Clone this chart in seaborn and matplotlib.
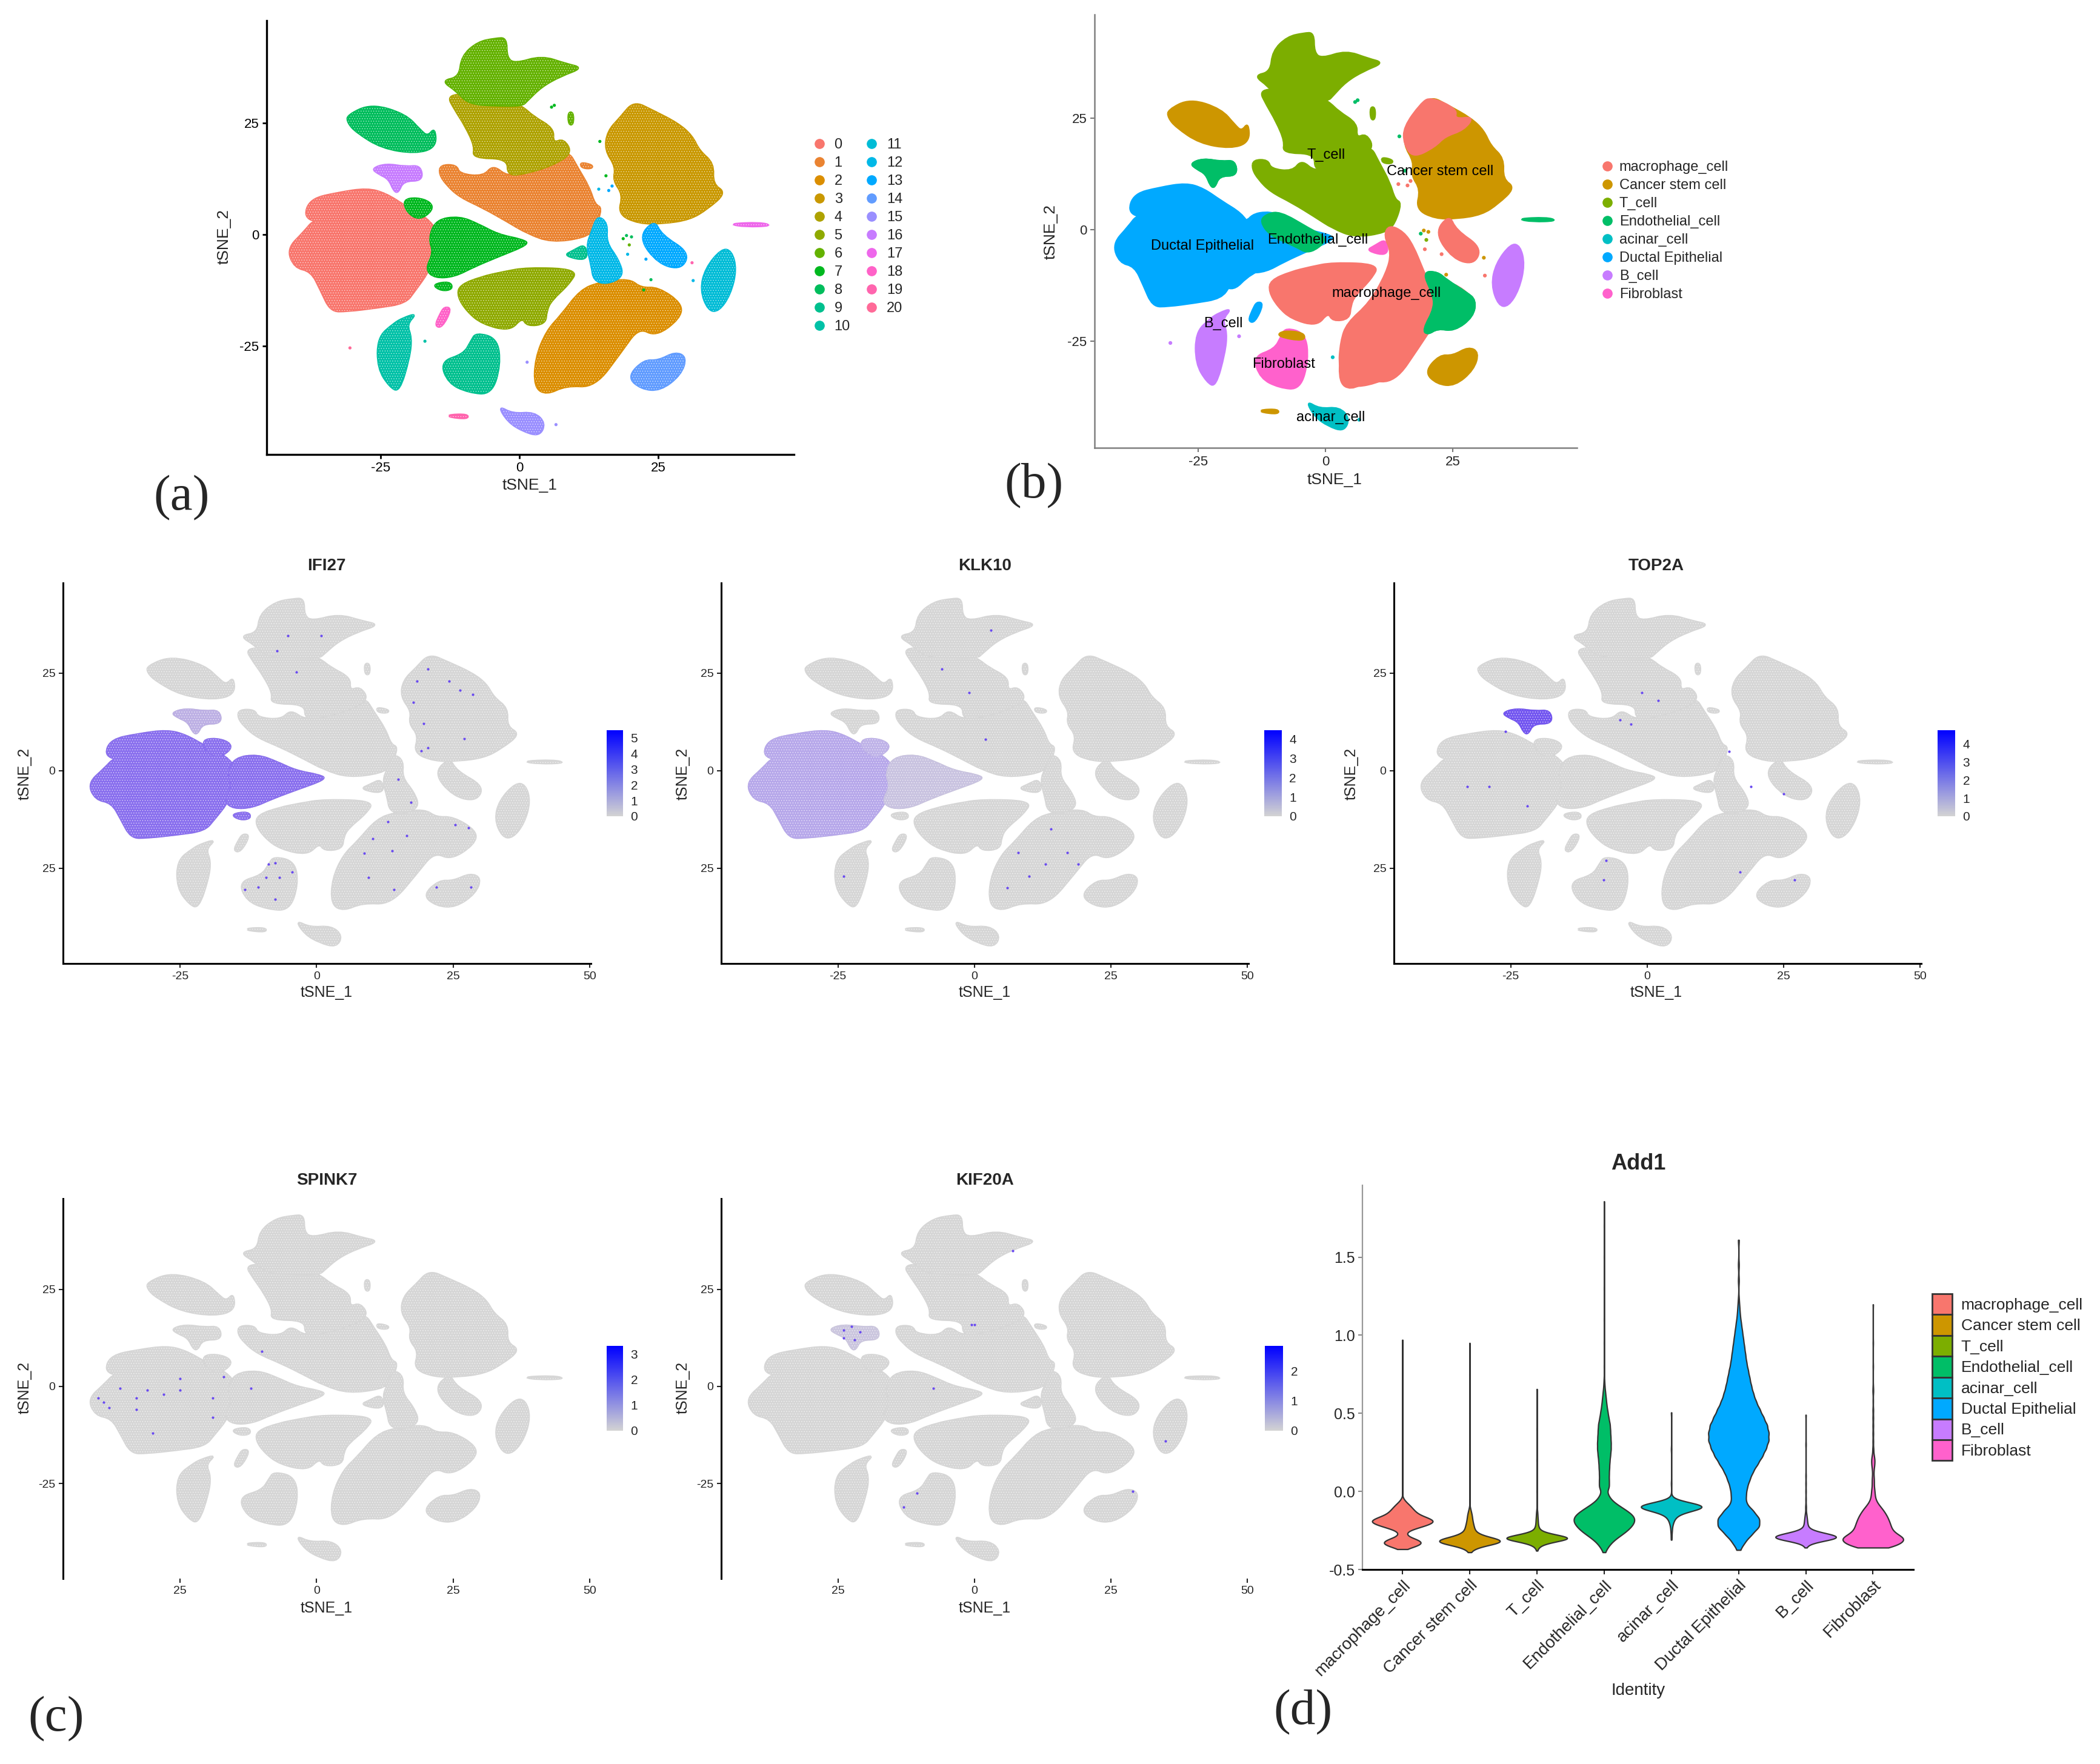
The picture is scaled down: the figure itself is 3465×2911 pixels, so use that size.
import numpy as np
import pandas as pd
import matplotlib
matplotlib.use("Agg")
import matplotlib.pyplot as plt
import seaborn as sns
from matplotlib.colors import LinearSegmentedColormap, Normalize
from matplotlib.cm import ScalarMappable
from matplotlib.lines import Line2D
from matplotlib.patches import Patch, PathPatch
from matplotlib.path import Path

sns.set_theme(style="ticks")
plt.rcParams["font.family"] = ["Liberation Sans", "DejaVu Sans"]
plt.rcParams["hatch.linewidth"] = 0.3
plt.rcParams["axes.unicode_minus"] = False

# ---------- cluster outlines (tSNE_1, tSNE_2) ----------
c0_x = [-41.8,-38.8,-36.8,-30,-30,-36,-38.8,-37.6,-32.7,-27.4,-24,-20.5,-16.5,-14.8,-14.8,-16.5,-18.7,-20.5,-25.7,-31,-34,-35.8,-37.5,-40.5]
c0_y = [-3.2,0.6,3.6,3.4,2.4,2.6,4,8,9.4,10.4,9.2,6.4,3.6,0.6,-4,-8.6,-12.4,-15.4,-16.4,-17.2,-17.2,-12.4,-8.2,-7.4]
c1_x = [-14.2,-11.3,-10.8,-6.5,-4.7,-2.1,1.4,5.8,8.8,10.4,12.6,13.6,14.9,13.6,11.9,5.8,1.4,-2.1,-6.5,-10.8,-13.2,-14.4]
c1_y = [15.6,15.6,13.6,13,15.6,12.9,14.4,15.9,18.8,15.2,10.6,6.7,6,1.4,-0.6,-1.7,0.3,2.9,6,8.5,11.3,13.6]
c1b_x = [11,13.2,13,11.2]
c1b_y = [16.2,15.6,14.8,15]
c2_x = [14.5,19.8,21.9,25,29.3,28.9,24.6,21.5,18.4,13.6,8.4,4.9,2.7,2.9,4.9,7.5,11]
c2_y = [-10.7,-9.9,-12,-11.8,-15.5,-18.8,-22.8,-20.8,-26.2,-34.2,-33.8,-35.9,-34.2,-27.7,-21.6,-18.1,-12.4]
c3_x = [20.6,24.1,28.5,31.1,32.4,35,34.8,37.2,33.9,30.7,25.9,21.5,17.8,18.7,16.9,17.4,15.4,15.9,18.2]
c3_y = [29.9,27.8,25,22.2,18.8,16,11.3,9.4,5.8,3.4,2.5,2.5,4.6,9,12.1,15.2,19,23.2,26.3]
c4_x = [-13,-9.1,-3.8,0.7,2.5,6.2,6,8,9.5,5.8,1.4,-2.1,-2.1,-8.4,-8,-9.7,-11.6]
c4_y = [31.2,31.5,31.5,28.6,26.5,23.8,20.5,21.5,18.2,15.5,13.8,13.2,17.1,17.2,19.8,24.3,28]
c5_x = [-10.8,-6.9,-3,1.4,10.5,9,5.8,4.9,4.7,1.4,0.5,-1.7,-6.7,-9.4,-11.1]
c5_y = [-11.4,-9.5,-8.4,-7.4,-7.8,-11,-14.7,-17,-20,-20.5,-18.5,-21.6,-20,-17.2,-13.9]
c6_x = [-4.3,-2.3,-2.3,-0.8,4,8.4,11.4,7.5,4,1.4,0.5,-3.8,-9.1,-11.3,-14,-10.8,-10.4,-7.5]
c6_y = [44,44.1,39.7,38.3,40.1,38.3,37.4,35.6,33.2,30,28.9,28.9,29.3,32.2,34.5,35.3,40,43.2]
c6b_x = [8.8,9.7,9.7,8.9]
c6b_y = [27.4,27.4,24.7,24.7]
c7_x = [-15,-10.8,-7.3,-3.8,0.5,1.8,-3.8,-8.2,-11.7,-15.2,-16.9,-15.4,-16.3]
c7_y = [3.3,4.1,2.3,0,-1.1,-2.1,-4.9,-7.2,-9.4,-9.7,-7.8,-4,-0.9]
c7b_x = [-20.9,-18.5,-16,-15.6,-18,-20.2]
c7b_y = [7.8,8.3,7.3,5.5,3.3,5]
c7c_x = [-15.7,-12.5,-12,-14]
c7c_y = [-11.2,-10.5,-12.2,-12.6]
c8_x = [-31,-26.6,-20.5,-17.8,-16.5,-15.2,-15,-18.7,-24.8,-29.4,-30.9]
c8_y = [26.8,29.3,27,23.4,22,24,19.6,18.2,19.4,23,25.1]
c8b_x = [11.9,12.3,8,9.7]
c8b_y = [-2.1,-5.9,-4.7,-3.6]
c9_x = [-7.8,-4,-3.4,-5,-9.1,-12.8,-14.2,-10,-8.7]
c9_y = [-22,-23.3,-29.2,-35.8,-35.4,-33.3,-28.5,-26.8,-23.9]
c10_x = [-18.5,-20.3,-19.4,-19.8,-21.6,-23.3,-25.5,-25.5,-22.6,-20.9]
c10_y = [-17.7,-20.1,-23.1,-27.7,-35.2,-34.2,-30,-23.1,-19.9,-18.7]
c11_x = [36.4,38.2,39.1,38,35.9,34,32.6,33.5]
c11_y = [-3.2,-3.6,-7.8,-13.4,-17.2,-17,-12.4,-7.6]
c12_x = [14.1,15.9,15.6,17.8,18.8,15.8,13.4,13,12.1,13]
c12_y = [4.3,2.5,-1.7,-5.5,-9.3,-11.1,-10.3,-7,-2.5,0.6]
c13_x = [24.3,25.6,30.6,29.2,25,21.5]
c13_y = [3.3,-0.1,-4,-7.8,-6.5,-0.7]
c14_x = [28.1,30.1,29.1,25.4,21.9,19.5,22.4,25]
c14_y = [-26.3,-27.5,-31.4,-35,-34.6,-31.9,-28.1,-28.3]
c15_x = [-3.8,-1.2,2.7,4.7,3.6,0.5,-2.1]
c15_y = [-38.4,-40.2,-39.8,-42.3,-45.2,-44,-41.9]
c16_x = [-26.6,-24,-20.5,-17.8,-17.4,-20.9,-21.8,-22.6,-23.5,-25.3]
c16_y = [14.8,15.9,15.2,15.5,12.1,12.1,9.4,9.8,12.5,13.6]
c17_x = [37.7,43.4,45.5,40.7]
c17_y = [2.4,2.7,2,1.8]
c18_x = [-13.5,-12.2,-13.9,-15.2,-14.3]
c18_y = [-16.2,-16.6,-20.8,-20.5,-17.9]
c19_x = [-12.6,-9.3,-9.3,-12.6]
c19_y = [-40.4,-40.3,-41.3,-40.9]

# cell-type regions that differ from the cluster outlines (panel b)
mac_up_x = [20.6,25.8,25.3,29.1,27.2,23.4,21.5,17.2,15.4,15.4,18.7]
mac_up_y = [29.7,27,24.7,25.3,22.4,20.9,18.6,16.1,19.3,23,28.2]
mac_low_x = [12.5,15.3,17.2,19.1,21.4,19.3,15.8,12,4.4,2.6,3,4.2,8.7,12,13,11.5]
mac_low_y = [1,-0.5,-3.6,-8.9,-15.1,-23,-29.8,-33.8,-35.7,-31,-25,-21,-16.4,-9.7,-5.1,-1.3]
endo_r_x = [19.1,22,23.9,27.7,29.5,29,25.3,22,20.1,19.1,21.5,21]
endo_r_y = [-9.5,-9.5,-11.4,-14.1,-15.8,-19.5,-22.7,-22.1,-23.5,-22.5,-17.4,-14.3]
duct_ext_x = [-15.6,-11.8,-10.9,-4.7,-9,-14.7,-18.6,-22.3,-20.4]
duct_ext_y = [2.5,3.3,-1.3,-4.7,-7.4,-9.7,-14.3,-9.7,-2.1]
endo_m_x = [-11.8,-9,-3.2,0.6,-3.2,-6.1,-10.9,-12.8]
endo_m_y = [3.3,4.1,0.2,-2.1,-5.5,-3.6,-1.3,1.8]
crown_x = [-8.5,-4.2,-4.2,-9.5]
crown_y = [-22.7,-23.1,-25,-23.9]

# scattered single cells (tSNE_1, tSNE_2, cluster)
stray_x = [5.8,15.6,14.3,16.7,19.3,18.7,19.8,19.5,23.7,22.4,22.8,31.1,1.4,6.6,-30.5,-17,14.5,31.3,6.3,20.2,16.1]
stray_y = [28.6,13.2,10.2,10.9,-0.2,-0.9,-2.3,-4.4,-10.1,-12.4,-5.5,-6.3,-28.6,-42.6,-25.4,-23.9,20.9,-10.3,29,-0.5,9.9]
stray_cluster = [7,7,12,13,8,7,6,12,8,7,13,19,15,15,20,10,7,12,7,8,13]

# positive cells drawn over the grey map
ifi_x = [18.4,20.4,24.3,26.2,17.7,28.6,19.6,27,20.4,19.2,-5.3,-7.2,-3.7,0.9,13,10.3,8.7,13.8,9.5,14.2,16.5,25.4,27.8,21.9,28.2,14.9,17.3,-7.6,-9.2,-10.7,-4.5,-7.6,-13.1,-8.8,-6.8]
ifi_y = [22.9,26,22.9,20.6,17.5,19.5,12.1,8.2,5.9,5.1,34.6,30.7,25.3,34.6,-13.1,-17.4,-21.2,-20.5,-27.4,-30.5,-16.6,-13.9,-14.7,-29.8,-29.8,-2.2,-8.1,-23.6,-27.4,-29.8,-25.9,-32.9,-30.5,-24,-27.4]
klk_pos_x = [-6,-1,3,14,8,10,17,19,13,6,-24,2]
klk_pos_y = [26,20,36,-15,-21,-27,-21,-24,-24,-30,-27,8]
spink_pos_x = [-39,-36,-33,-31,-28,-25,-40,-38,-33,-25,-17,-19,-12,-10,-19,-30]
spink_pos_y = [-4,-0.5,-3,-1,-2,-1,-3,-5.5,-6,2,2.5,-8,-0.5,9,-3,-12]
kif_pos_x = [-24,-22.5,-21,-24,-22,-7.5,0,7,29,-0.5,-13,-10.5,35]
kif_pos_y = [14.5,15.5,14,12.5,12,-0.4,16,35,-27,16,-31,-27.5,-14]
top_pos_x = [-1,2,-5,-26,-33,-29,-22,19,25,-3,17,-7.5,-8,27,15]
top_pos_y = [20,18,13,10,-4,-4,-9,-4,-6,12,-26,-23,-28,-28,5]

cluster_labels = [str(i) for i in range(21)]
cluster_colors = ["#F8766D","#EA8331","#DB8E00","#C99800","#AEA200","#8FAA00","#64B200","#00B81F",
                  "#00BD5C","#00C08E","#00C1A7","#00BCD6","#00B8E7","#00A9FF","#619CFF","#9A8FFF",
                  "#C77CFF","#EE67EB","#FF62C8","#FF65AE","#FF6A98"]
cell_types = ["macrophage_cell","Cancer stem cell","T_cell","Endothelial_cell","acinar_cell",
              "Ductal Epithelial","B_cell","Fibroblast"]
cell_colors = ["#F8766D","#CD9600","#7CAE00","#00BE67","#00BFC4","#00A9FF","#C77CFF","#FF61CC"]
cell_label_x = [12,22.5,0.1,-1.5,1,-24.2,-20.1,-8.2]
cell_label_y = [-14.3,13,16.7,-2.3,-42.1,-3.7,-21,-30.1]
cell_label_text = ["macrophage_cell","Cancer stem cell","T_cell","Endothelial_cell","acinar_cell",
                   "Ductal Epithelial","B_cell","Fibroblast"]

feature_names = ["IFI27","KLK10","TOP2A","SPINK7","KIF20A"]
feature_max = [5.47,4.44,4.74,3.33,2.83]
feature_ticks = [[0,1,2,3,4,5],[0,1,2,3,4],[0,1,2,3,4],[0,1,2,3],[0,1,2]]

# violin densities: value levels and how many cells sit at each level
mac_v = [-0.37,-0.35,-0.33,-0.31,-0.29,-0.27,-0.25,-0.23,-0.21,-0.19,-0.17,-0.15,-0.13,-0.11,-0.09,-0.07,-0.05,0.02,0.15,0.35,0.6,0.97]
mac_n = [10,42,60,46,18,10,20,50,80,95,75,50,38,30,22,12,4,1,1,1,1,1]
can_v = [-0.39,-0.37,-0.35,-0.33,-0.31,-0.29,-0.27,-0.25,-0.23,-0.21,-0.19,-0.17,-0.15,-0.13,-0.11,-0.05,0.1,0.3,0.5,0.75,0.95]
can_n = [3,10,35,85,90,45,22,14,12,10,8,7,6,4,2,1,1,1,1,1,1]
tce_v = [-0.38,-0.36,-0.34,-0.32,-0.30,-0.28,-0.26,-0.24,-0.22,-0.20,-0.18,-0.16,-0.14,-0.12,0.0,0.2,0.4,0.655]
tce_n = [1,4,14,50,110,55,14,6,4,3,3,2,2,1,1,1,1,1]
end_v = [-0.39,-0.37,-0.35,-0.33,-0.31,-0.29,-0.27,-0.25,-0.23,-0.21,-0.19,-0.17,-0.15,-0.13,-0.11,-0.09,-0.07,-0.05,-0.03,-0.01,0.03,0.07,0.11,0.15,0.19,0.23,0.27,0.31,0.35,0.39,0.43,0.47,0.51,0.55,0.59,0.63,0.67,0.71,0.8,0.95,1.1,1.3,1.5,1.7,1.857]
end_n = [3,8,14,22,32,45,60,72,82,90,95,95,88,75,60,45,30,20,14,12,32,30,30,32,34,38,42,42,40,38,36,28,22,16,12,8,4,2,1,1,1,1,1,1,1]
aci_v = [-0.31,-0.29,-0.27,-0.25,-0.23,-0.21,-0.19,-0.17,-0.15,-0.13,-0.11,-0.09,-0.07,-0.05,-0.03,0.05,0.27,0.505]
aci_n = [1,1,1,2,2,4,6,10,18,40,75,80,40,8,1,1,1,1]
duc_v = [-0.375,-0.325,-0.275,-0.225,-0.175,-0.125,-0.075,-0.025,0.025,0.075,0.125,0.175,0.225,0.275,0.325,0.375,0.425,0.475,0.525,0.575,0.625,0.675,0.725,0.775,0.825,0.875,0.925,0.975,1.025,1.075,1.125,1.175,1.225,1.35,1.45,1.61]
duc_n = [3,12,25,40,40,28,14,14,16,21,27,36,45,52,57,57,54,47,40,33,28,24,21,18,15,13,11,9,7,5,3,2,1,1,1,1]
bce_v = [-0.36,-0.34,-0.32,-0.30,-0.28,-0.26,-0.24,-0.22,-0.20,-0.18,-0.16,-0.14,-0.10,-0.05,0.0,0.05,0.1,0.3,0.49]
bce_n = [2,6,40,105,90,35,10,6,5,4,3,2,2,1,1,1,1,1,1]
fib_v = [-0.36,-0.34,-0.32,-0.30,-0.28,-0.26,-0.24,-0.22,-0.20,-0.18,-0.16,-0.14,-0.12,-0.10,-0.08,-0.06,-0.04,-0.02,0.0,0.02,0.05,0.08,0.11,0.14,0.17,0.20,0.23,0.27,0.32,0.37,0.42,0.47,0.52,0.58,0.64,0.67,0.8,0.95,1.197]
fib_n = [55,80,95,100,80,65,58,55,52,48,44,38,32,24,16,10,7,6,5,5,5,5,3,4,7,8,5,3,2,2,2,2,2,1,2,1,1,1,1]
violin_levels = [mac_v,can_v,tce_v,end_v,aci_v,duc_v,bce_v,fib_v]
violin_counts = [mac_n,can_n,tce_n,end_n,aci_n,duc_n,bce_n,fib_n]
violin_bw = [0.014,0.016,0.016,0.022,0.016,0.027,0.016,0.018]

# ---------- figure ----------
W, H = 3465, 2911
fig = plt.figure(figsize=(W/100, H/100), dpi=100, facecolor="white")

def px_axes(l, t, r, b):
    return fig.add_axes([l/W, 1-b/H, (r-l)/W, (b-t)/H])

def ftext(x, y, s, **kw):
    kw.setdefault("ha", "center"); kw.setdefault("va", "center")
    fig.text(x/W, 1-y/H, s, **kw)

def rounded_outline(xs, ys):
    # closed path with the read vertices as curve control points
    P = np.column_stack([xs, ys])
    mid = (P + np.roll(P, -1, axis=0)) / 2
    verts, codes = [mid[-1]], [Path.MOVETO]
    for p, m in zip(P, mid):
        verts += [p, m]
        codes += [Path.CURVE3, Path.CURVE3]
    return Path(np.array(verts), codes)

def blob(ax, xs, ys, color, speck="white", hatch="...."):
    path = rounded_outline(xs, ys)
    ax.add_patch(PathPatch(path, facecolor=color, edgecolor=color, linewidth=2.5, zorder=2))
    if hatch:
        ax.add_patch(PathPatch(path, facecolor="none", edgecolor=speck, hatch=hatch, linewidth=0, zorder=2))

clusters = [(c0_x,c0_y,0),(c1_x,c1_y,1),(c1b_x,c1b_y,1),(c2_x,c2_y,2),(c3_x,c3_y,3),(c4_x,c4_y,4),
            (c5_x,c5_y,5),(c6_x,c6_y,6),(c6b_x,c6b_y,6),(c7_x,c7_y,7),(c7b_x,c7b_y,7),(c7c_x,c7c_y,7),
            (c8_x,c8_y,8),(c8b_x,c8b_y,9),(c9_x,c9_y,9),(c10_x,c10_y,10),(c11_x,c11_y,11),(c12_x,c12_y,12),
            (c13_x,c13_y,13),(c14_x,c14_y,14),(c15_x,c15_y,15),(c16_x,c16_y,16),(c17_x,c17_y,17),
            (c18_x,c18_y,18),(c19_x,c19_y,19)]

# ---------- panel a ----------
ax = px_axes(440, 34, 1310, 750)
for xs, ys, k in clusters:
    blob(ax, xs, ys, cluster_colors[k])
sns.scatterplot(x=stray_x, y=stray_y, hue=[cluster_labels[k] for k in stray_cluster],
                palette=dict(zip(cluster_labels, cluster_colors)), s=14, linewidth=0, legend=False, ax=ax, zorder=3)
ax.set(xlim=(-45.5,49.45), ylim=(-49.3,48.0), xticks=[-25,0,25], yticks=[-25,0,25])
ax.tick_params(labelsize=16, length=5, width=2, colors="black", pad=4)
sns.despine(ax=ax)
for s in ax.spines.values(): s.set_linewidth(2.4); s.set_color("black")
ftext(874, 801, "tSNE_1", fontsize=19)
ftext(370, 391, "tSNE_2", fontsize=19, rotation=90)
h = [Line2D([],[],ls="",marker="o",ms=12,mfc=c,mec="none") for c in cluster_colors]
ax.legend(h, cluster_labels, loc="upper left", bbox_to_anchor=(1340/W, 1-228/H), bbox_transform=fig.transFigure,
          ncol=2, frameon=False, fontsize=17, labelspacing=0.34, handletextpad=0.55, columnspacing=1.0,
          handlelength=1.0, borderpad=0, borderaxespad=0)
ftext(300, 822, "(a)", fontsize=60, family="Liberation Serif")

# ---------- panel b ----------
ax = px_axes(1806, 24, 2602, 739)
type_of = {0:5,1:2,2:0,3:1,4:2,5:0,6:2,7:3,8:1,9:7,10:6,11:6,12:0,13:0,14:1,15:4,16:3,17:3,18:5,19:1,20:6}
for xs, ys, k in clusters:
    if k in (2, 7, 12):
        continue
    blob(ax, xs, ys, cell_colors[type_of[k]], hatch="")
blob(ax, c2_x, c2_y, cell_colors[0], hatch="")
blob(ax, endo_r_x, endo_r_y, cell_colors[3], hatch="")
blob(ax, mac_low_x, mac_low_y, cell_colors[0], hatch="")
blob(ax, endo_r_x, endo_r_y, cell_colors[3], hatch="")
blob(ax, mac_up_x, mac_up_y, cell_colors[0], hatch="")
blob(ax, c7_x, c7_y, cell_colors[5], hatch="")
blob(ax, duct_ext_x, duct_ext_y, cell_colors[5], hatch="")
blob(ax, endo_m_x, endo_m_y, cell_colors[3], hatch="")
blob(ax, c16_x, c16_y, cell_colors[3], hatch="")
blob(ax, crown_x, crown_y, cell_colors[1], hatch="")
sns.scatterplot(x=stray_x, y=stray_y, hue=[cell_types[type_of[k]] for k in stray_cluster],
                palette=dict(zip(cell_types, cell_colors)), s=20, linewidth=0, legend=False, ax=ax, zorder=3)
for tx, ty, t in zip(cell_label_x, cell_label_y, cell_label_text):
    ax.text(tx, ty, t, ha="center", va="center", fontsize=17, color="black", zorder=5)
ax.set(xlim=(-45.4,49.4), ylim=(-48.9,48.2), xticks=[-25,0,25], yticks=[-25,0,25])
ax.tick_params(labelsize=16, length=5, width=1.5, color="#777777", pad=4)
sns.despine(ax=ax)
for s in ax.spines.values(): s.set_linewidth(1.8); s.set_color("#808080")
ftext(2202, 792, "tSNE_1", fontsize=19)
ftext(1734, 383, "tSNE_2", fontsize=19, rotation=90)
h = [Line2D([],[],ls="",marker="o",ms=12,mfc=c,mec="none") for c in cell_colors]
ax.legend(h, cell_types, loc="upper left", bbox_to_anchor=(2640/W, 1-265/H), bbox_transform=fig.transFigure,
          frameon=False, fontsize=17, labelspacing=0.34, handletextpad=0.35, handlelength=1.0,
          borderpad=0, borderaxespad=0)
ftext(1706, 802, "(b)", fontsize=60, family="Liberation Serif")

# ---------- feature plots ----------
grey = "#D6D6D6"
gene_cmap = LinearSegmentedColormap.from_list("gene", ["#D3D3D3", "#0000FF"])
panels = [(104,975,962,1590,(-49.4,48.1),(1001,1028,1205,1347),(539,934,1638,41,1277),["-25","0","25","50"],["25","0","25"]),
          (1190,2060,962,1590,(-49.4,48.1),(2086,2115,1205,1347),(1625,934,1638,1127,1277),["-25","0","25","50"],["25","0","25"]),
          (2300,3170,962,1590,(-49.4,48.1),(3197,3226,1205,1347),(2733,934,1638,2230,1277),["-25","0","25","50"],["25","0","25"]),
          (104,975,1978,2605,(-49.5,48.4),(1001,1028,2221,2361),(539,1948,2654,41,2290),["25","0","25","50"],["-25","0","25"]),
          (1190,2060,1978,2605,(-49.5,48.4),(2087,2117,2221,2361),(1625,1948,2654,1127,2290),["25","0","25","50"],["-25","0","25"])]
pos_lists = [(ifi_x,ifi_y),(klk_pos_x,klk_pos_y),(top_pos_x,top_pos_y),(spink_pos_x,spink_pos_y),(kif_pos_x,kif_pos_y)]

for i, (l, r, t, b, yl, cb, lab, xtl, ytl) in enumerate(panels):
    ax = px_axes(l, t, r, b)
    for xs, ys, k in clusters:
        blob(ax, xs, ys, grey)
    if i == 0:
        for xs, ys in [(c0_x,c0_y),(c7_x,c7_y),(c7b_x,c7b_y),(c7c_x,c7c_y)]:
            blob(ax, xs, ys, "#8A70EE")
        blob(ax, c16_x, c16_y, "#BDB0E4")
    if i == 1:
        blob(ax, c0_x, c0_y, "#B7A8EA")
        blob(ax, c7_x, c7_y, "#C9C3E0")
        blob(ax, c7b_x, c7b_y, "#BFB3E8")
    if i == 2:
        blob(ax, c16_x, c16_y, "#7356F0")
    if i == 4:
        blob(ax, c16_x, c16_y, "#CBC6DE")
    px, py = pos_lists[i]
    sns.scatterplot(x=px, y=py, color="#6A4BF0", s=9, linewidth=0, ax=ax, zorder=3)
    ax.set(xlim=(-46.4,50.2), ylim=yl, xticks=[-25,0,25,50], yticks=[-25,0,25],
           xticklabels=xtl, yticklabels=ytl)
    ax.tick_params(labelsize=14, length=5, width=1.5, pad=4)
    sns.despine(ax=ax)
    for s in ax.spines.values(): s.set_linewidth(2.2); s.set_color("black")
    if i >= 3:
        ax.spines["bottom"].set_visible(False)
    ftext(lab[0], lab[1], feature_names[i], fontsize=20, fontweight="bold")
    ftext(lab[0], lab[2], "tSNE_1", fontsize=18)
    ftext(lab[3], lab[4], "tSNE_2", fontsize=18, rotation=90)
    cax = px_axes(cb[0], cb[2], cb[1], cb[3])
    cbar = fig.colorbar(ScalarMappable(Normalize(0, feature_max[i]), gene_cmap), cax=cax)
    cbar.set_ticks(feature_ticks[i])
    cbar.outline.set_visible(False)
    cax.tick_params(labelsize=15, length=0, pad=9)

ftext(93, 2837, "(c)", fontsize=60, family="Liberation Serif")

# ---------- panel d ----------
ax = px_axes(2248, 1956, 3157, 2590)
for cat, col, lv, ct, bw in zip(cell_types, cell_colors, violin_levels, violin_counts, violin_bw):
    vals = np.repeat(np.array(lv, dtype=float), ct)
    frame = pd.DataFrame({"Identity": cat, "value": vals})
    sns.violinplot(data=frame, x="Identity", y="value", order=cell_types, color=col, saturation=1,
                   cut=0, density_norm="width", inner=None, width=0.9, linewidth=1.6, linecolor="#333333",
                   bw_method=bw/vals.std(), gridsize=500, ax=ax)
ax.set(xlim=(-0.595,7.6), ylim=(-0.5,1.96), yticks=[-0.5,0,0.5,1.0,1.5],
       yticklabels=["-0.5","0.0","0.5","1.0","1.5"], xlabel="", ylabel="")
ax.tick_params(axis="y", labelsize=18, length=5, width=1.5, color="#888888")
ax.tick_params(axis="x", length=6, width=1.5)
plt.setp(ax.get_xticklabels(), rotation=45, ha="right", rotation_mode="anchor", fontsize=20)
sns.despine(ax=ax)
ax.spines["left"].set_color("#999999"); ax.spines["left"].set_linewidth(1.6)
ax.spines["bottom"].set_color("black"); ax.spines["bottom"].set_linewidth(2.2)
ftext(2703, 1920, "Add1", fontsize=26, fontweight="bold")
ftext(2703, 2790, "Identity", fontsize=20)
h = [Patch(facecolor=c, edgecolor="#333333", linewidth=2) for c in cell_colors]
ax.legend(h, cell_types, loc="upper left", bbox_to_anchor=(3188/W, 1-2135/H), bbox_transform=fig.transFigure,
          frameon=False, fontsize=19, labelspacing=0, handleheight=1.63, handlelength=1.25, handletextpad=0.55,
          borderpad=0, borderaxespad=0)
ftext(2150, 2826, "(d)", fontsize=60, family="Liberation Serif")

fig.savefig("out.png", dpi=100, facecolor="white")
